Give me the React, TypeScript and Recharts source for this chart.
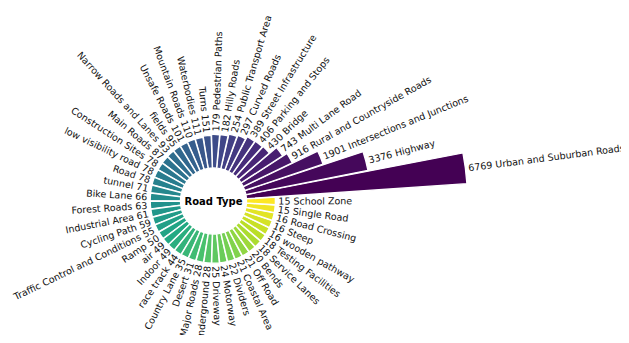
import React from 'react';
import { RadialBarChart, RadialBar, PolarAngleAxis, PolarRadiusAxis, Sector } from 'recharts';

// road types, sorted by count (descending)
const roadTypes = [
  'Urban and Suburban Roads', 'Highway', 'Intersections and Junctions', 'Rural and Countryside Roads',
  'Multi Lane Road', 'Bridge', 'Parking and Stops', 'Street Infrastructure', 'Curved Roads',
  'Public Transport Area', 'Hilly Roads', 'Pedestrian Paths', 'Turns', 'Waterbodies',
  'Mountain Roads', 'Unsafe Roads', 'fields', 'Narrow Roads and Lanes', 'Main Roads',
  'Construction Sites', 'low visibility road', 'Road', 'tunnel', 'Bike Lane', 'Forest Roads',
  'Industrial Area', 'Cycling Path', 'Traffic Control and Conditions', 'Ramp', 'air', 'Indoor',
  'race track', 'Country Lane', 'Desert', 'Major Roads', 'underground', 'Driveway', 'Motorway',
  'Dividers', 'Coastal Area', 'Off Road', 'Bends', 'Service Lanes', 'Testing Facilities',
  'wooden pathway', 'Steep', 'Road Crossing', 'Single Road', 'School Zone',
];

const counts = [
  6769, 3376, 1901, 916, 743, 430, 406, 389, 297, 254, 182, 179, 151, 111, 110, 101, 95, 93, 87,
  78, 78, 78, 71, 66, 63, 61, 59, 55, 50, 49, 49, 44, 35, 31, 28, 28, 25, 24, 22, 21, 21, 20, 18,
  18, 16, 16, 16, 15, 15,
];

// bars start from a fixed lower limit, like the original plot
const LOWER = 1000;
const MAX = Math.max(...counts);

const VIRIDIS = [
  '#440154', '#482475', '#414487', '#355f8d', '#2a788e', '#21918c',
  '#22a884', '#44bf70', '#7ad151', '#bddf26', '#fde725',
];

const hex = (c: string) => [1, 3, 5].map(i => parseInt(c.slice(i, i + 2), 16));

const viridis = (t: number) => {
  const p = Math.min(Math.max(t, 0), 1) * (VIRIDIS.length - 1);
  const i = Math.min(Math.floor(p), VIRIDIS.length - 2);
  const f = p - i;
  const a = hex(VIRIDIS[i]);
  const b = hex(VIRIDIS[i + 1]);
  const rgb = a.map((v, k) => Math.round(v + (b[k] - v) * f));
  return `rgb(${rgb.join(',')})`;
};

const data = roadTypes.map((name, i) => ({
  name,
  count: counts[i],
  idx: i,
}));

const RAD = Math.PI / 180;

const BarWithLabel = (props: any) => {
  const { cx, cy, innerRadius, outerRadius, startAngle, endAngle, payload } = props;
  const color = viridis(payload.idx / (roadTypes.length - 1));
  let angle = ((startAngle + endAngle) / 2) % 360;
  if (angle < 0) angle += 360;
  const r = outerRadius + 3;
  const x = cx + r * Math.cos(-angle * RAD);
  const y = cy + r * Math.sin(-angle * RAD);
  const flip = angle > 90.01 && angle < 270.01;
  const text = flip ? `${payload.name} ${payload.count}` : `${payload.count} ${payload.name}`;
  return (
    <g>
      <Sector
        cx={cx}
        cy={cy}
        innerRadius={innerRadius}
        outerRadius={outerRadius}
        startAngle={startAngle}
        endAngle={endAngle}
        fill={color}
        stroke="#ffffff"
        strokeWidth={1.3}
      />
      <text
        x={x}
        y={y}
        textAnchor={flip ? 'end' : 'start'}
        dominantBaseline="central"
        transform={`rotate(${flip ? 180 - angle : -angle}, ${x}, ${y})`}
        fontSize={9.5}
        fill="#111"
        fontFamily="DejaVu Sans"
      >
        {text}
      </text>
    </g>
  );
};

export default function App() {
  return (
    <div style={{ width: 613, height: 327 }}>
      <style>{'.recharts-surface, .recharts-wrapper { overflow: visible !important; }'}</style>
      <RadialBarChart
        width={613}
        height={327}
        data={data}
        layout="centric"
        cx={205.5}
        cy={193}
        innerRadius={33}
        outerRadius={254}
        startAngle={11.25}
        endAngle={371.25}
        barCategoryGap={0}
        margin={{ top: 0, right: 0, bottom: 0, left: 0 }}
      >
        <PolarAngleAxis type="category" dataKey="name" tick={false} axisLine={false} tickLine={false} />
        <PolarRadiusAxis type="number" domain={[0, MAX + LOWER]} tick={false} axisLine={false} />
        <RadialBar
          dataKey={(d: any) => d.count + LOWER}
          shape={BarWithLabel}
          isAnimationActive={false}
        />
        <text
          x={205.5}
          y={193}
          textAnchor="middle"
          dominantBaseline="central"
          fontSize={10}
          fontWeight="bold"
          fontFamily="DejaVu Sans"
          fill="#000"
        >
          Road Type
        </text>
      </RadialBarChart>
    </div>
  );
}
